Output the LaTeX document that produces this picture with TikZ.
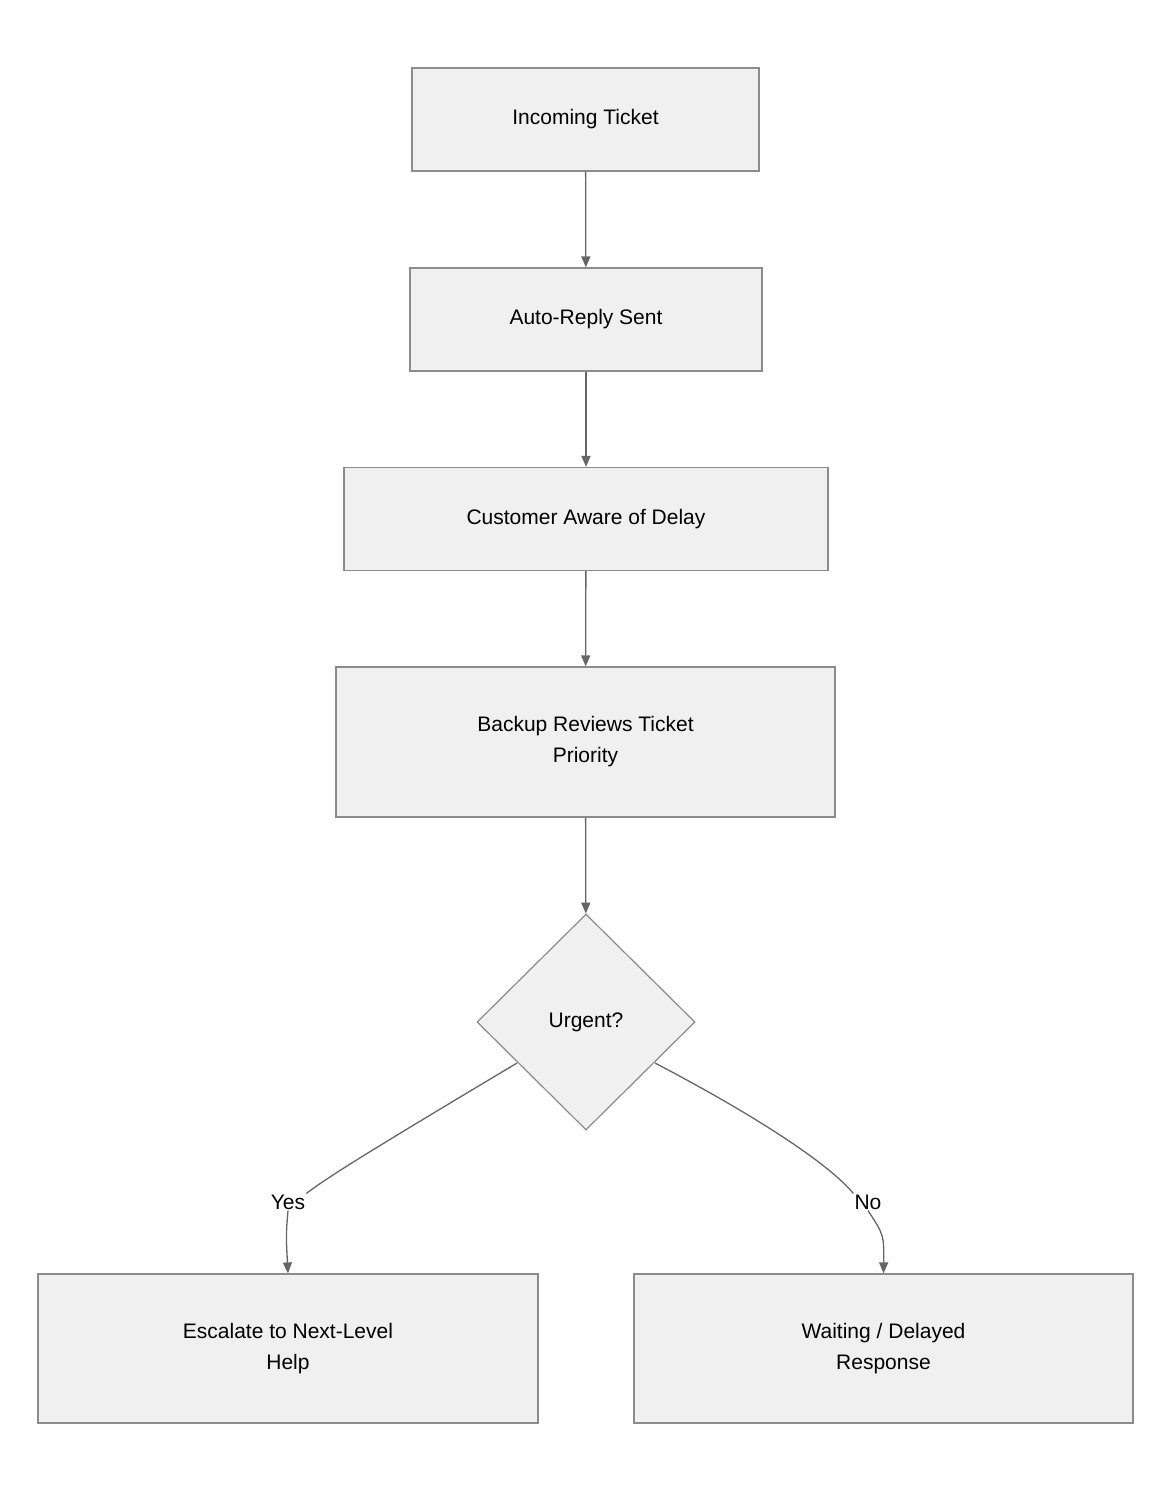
\documentclass[tikz,border=0pt]{standalone}
\usepackage{fontspec}
\setmainfont{Liberation Sans}
\usetikzlibrary{shapes.geometric,arrows.meta}
\begin{document}
\begin{tikzpicture}[x=1pt,y=-1pt,
 box/.style={draw=black!45,fill=black!6,line width=1.2pt,minimum height=103pt,align=center,font=\fontsize{21}{31}\selectfont,inner sep=0pt},
 arr/.style={draw=black!60,line width=1.3pt,-{Triangle[length=11pt,width=9pt]}},
 lab/.style={fill=white,font=\fontsize{21}{25}\selectfont,inner sep=1pt}]
\useasboundingbox (0,0) rectangle (1172,1492);
\node[box,minimum width=347pt] (a) at (585.5,119.5) {Incoming Ticket};
\node[box,minimum width=352pt] (b) at (586,319.5) {Auto-Reply Sent};
\node[box,minimum width=484pt] (c) at (586,519) {Customer Aware of Delay};
\node[box,minimum width=499pt,minimum height=150pt] (d) at (585.5,742) {Backup Reviews Ticket\\Priority};
\node[diamond,draw=black!45,fill=black!6,line width=1.2pt,minimum width=218pt,minimum height=216pt,inner sep=0pt,font=\fontsize{21}{25}\selectfont] (u) at (586,1022) {Urgent?};
\node[box,minimum width=500pt,minimum height=149pt] (e) at (288,1348.5) {Escalate to Next-Level\\Help};
\node[box,minimum width=499pt,minimum height=149pt] (w) at (883.5,1348.5) {Waiting / Delayed\\Response};
\draw[arr] (a) -- (b);
\draw[arr] (b) -- (c);
\draw[arr] (c) -- (d);
\draw[arr] (d) -- (u);
\coordinate (ul) at (517,1063);
\coordinate (ur) at (655,1063);
\node[lab] (y) at (288,1202) {Yes};
\node[lab] (n) at (868,1202) {No};
\draw[draw=black!60,line width=1.3pt] (ul) .. controls (400,1133) and (330,1175) .. (y.north east);
\draw[arr] (y.south) .. controls (286,1235) .. (e.north);
\draw[draw=black!60,line width=1.3pt] (ur) .. controls (760,1118) and (830,1165) .. (n.north west);
\draw[arr] (n.south) .. controls (884,1235) .. (w.north);
\end{tikzpicture}
\end{document}
